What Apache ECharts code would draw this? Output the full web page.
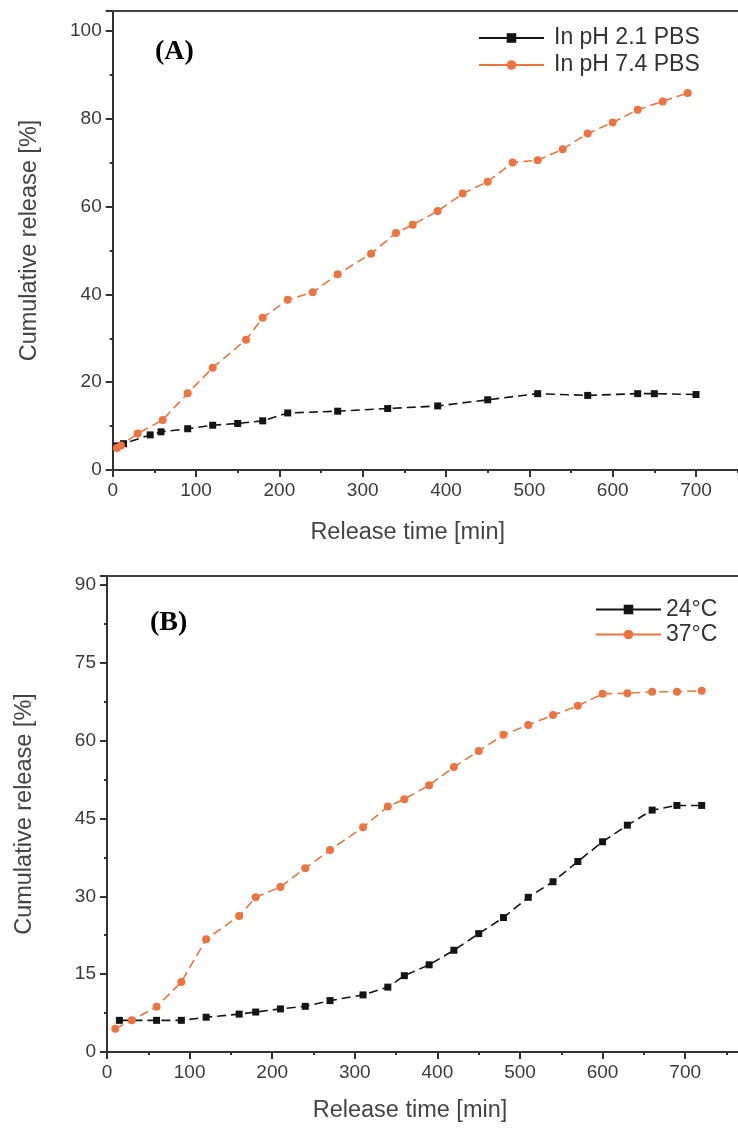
<!DOCTYPE html>
<html><head><meta charset="utf-8">
<script src="https://cdn.jsdelivr.net/npm/echarts@6/dist/echarts.min.js"></script>
<style>html,body{margin:0;padding:0;background:#fff}#c{width:738px;height:1133px}</style>
</head><body><div id="c"></div>
<script>
// Panel A
const namesA = ['In pH 2.1 PBS', 'In pH 7.4 PBS'];
const timeA21 = [5, 13, 45, 58, 90, 120, 150, 180, 210, 270, 330, 390, 450, 510, 570, 630, 650, 700];
const relA21  = [5.5, 6.0, 8.0, 8.7, 9.4, 10.2, 10.6, 11.2, 13.0, 13.4, 14.0, 14.6, 16.0, 17.4, 17.0, 17.4, 17.4, 17.2];
const timeA74 = [5, 10, 30, 60, 90, 120, 160, 180, 210, 240, 270, 310, 340, 360, 390, 420, 450, 480, 510, 540, 570, 600, 630, 660, 690];
const relA74  = [5.0, 5.6, 8.3, 11.4, 17.5, 23.3, 29.7, 34.7, 38.8, 40.5, 44.6, 49.3, 54.0, 55.9, 59.0, 63.0, 65.7, 70.1, 70.6, 73.1, 76.7, 79.2, 82.1, 84.0, 85.9];
// Panel B
const namesB = ['24°C', '37°C'];
const timeB24 = [15, 60, 90, 120, 160, 180, 210, 240, 270, 310, 340, 360, 390, 420, 450, 480, 510, 540, 570, 600, 630, 660, 690, 720];
const relB24  = [6.1, 6.1, 6.1, 6.7, 7.3, 7.7, 8.3, 8.8, 9.9, 11.0, 12.5, 14.7, 16.8, 19.6, 22.8, 25.9, 29.8, 32.8, 36.7, 40.5, 43.7, 46.6, 47.5, 47.5];
const timeB37 = [10, 30, 60, 90, 120, 160, 180, 210, 240, 270, 310, 340, 360, 390, 420, 450, 480, 510, 540, 570, 600, 630, 660, 690, 720];
const relB37  = [4.5, 6.1, 8.7, 13.5, 21.7, 26.2, 29.8, 31.8, 35.4, 38.9, 43.3, 47.3, 48.7, 51.4, 54.9, 58.0, 61.1, 63.0, 64.9, 66.7, 69.0, 69.1, 69.4, 69.4, 69.6];
// Axis ticks
const xTicksInterval = 100;
const yIntervalA = 20;
const yIntervalB = 15;

const zip = (a, b) => a.map((v, i) => [v, b[i]]);
const BLACK = '#141414', ORANGE = '#ec7440', AXIS = '#333';
const font = 'Liberation Sans, Arial, sans-serif';

function xAxis(gi, max, padShift, gap) {
  return {
    type: 'value', gridIndex: gi, min: 0, max: max, interval: xTicksInterval,
    name: 'Release time [min]', nameLocation: 'middle', nameGap: gap,
    nameTextStyle: { fontFamily: font, fontSize: 23.5, color: '#444', padding: [0, padShift, 0, 0] },
    axisLine: { lineStyle: { color: AXIS, width: 2 } },
    axisTick: { inside: false, length: 7, lineStyle: { color: AXIS, width: 2 } },
    minorTick: { show: true, splitNumber: 2, length: 3, lineStyle: { color: AXIS, width: 2 } },
    axisLabel: { fontFamily: font, fontSize: 19, color: '#3a3a3a', margin: 11, showMaxLabel: false },
    splitLine: { show: false }, minorSplitLine: { show: false }
  };
}
function topAxis(gi, max) {
  return {
    type: 'value', gridIndex: gi, position: 'top', min: 0, max: max,
    axisLine: { show: true, onZero: false, lineStyle: { color: '#444', width: 2 } },
    axisTick: { show: false }, axisLabel: { show: false }, splitLine: { show: false }
  };
}
function yAxis(gi, max, interval, gap) {
  return {
    type: 'value', gridIndex: gi, min: 0, max: max, interval: interval,
    name: 'Cumulative release [%]', nameLocation: 'middle', nameGap: gap,
    nameTextStyle: { fontFamily: font, fontSize: 23.5, color: '#444' },
    axisLine: { show: true, lineStyle: { color: AXIS, width: 2 } },
    axisTick: { show: true, inside: false, length: 7, lineStyle: { color: AXIS, width: 2 } },
    minorTick: { show: true, splitNumber: 2, length: 3, lineStyle: { color: AXIS, width: 2 } },
    axisLabel: { fontFamily: font, fontSize: 19, color: '#3a3a3a', margin: 11, showMaxLabel: false },
    splitLine: { show: false }, minorSplitLine: { show: false }
  };
}
function line(name, data, xi, yi, color, symbol, size) {
  return {
    name: name, type: 'line', xAxisIndex: xi, yAxisIndex: yi, data: data,
    symbol: symbol, symbolSize: size, showSymbol: true,
    lineStyle: { color: color, width: 1.6, type: [9, 5] },
    itemStyle: { color: color }, emphasis: { disabled: true }, animation: false
  };
}

const chart = echarts.init(document.getElementById('c'), null, { renderer: 'canvas' });
chart.setOption({
  backgroundColor: '#fff',
  animation: false,
  grid: [
    { left: 112.7, top: 11, width: 630, height: 459, outerBoundsMode: 'none', containLabel: false },
    { left: 107, top: 576, width: 636, height: 476, outerBoundsMode: 'none', containLabel: false }
  ],
  xAxis: [xAxis(0, 756, 40, 51), xAxis(1, 770, 30, 47), topAxis(0, 756), topAxis(1, 770)],
  yAxis: [yAxis(0, 104.6, yIntervalA, 71), yAxis(1, 91.7, yIntervalB, 70)],
  legend: [
    { orient: 'vertical', left: 473, top: 20, itemWidth: 65, itemHeight: 12, itemGap: 1,
      textStyle: { fontFamily: font, fontSize: 23, color: '#333', padding: [0, 0, 0, 5], lineHeight: 26 },
      data: namesA, lineStyle: { type: 'solid', width: 2 }, selectedMode: false },
    { orient: 'vertical', left: 590, top: 592, itemWidth: 65, itemHeight: 12, itemGap: 0,
      textStyle: { fontFamily: font, fontSize: 23, color: '#333', lineHeight: 25 },
      data: namesB, lineStyle: { type: 'solid', width: 2 }, selectedMode: false }
  ],
  graphic: [
    { type: 'text', left: 155, top: 38, style: { text: '(A)', font: 'bold 28px "Liberation Serif", "Times New Roman", serif', fill: '#000' } },
    { type: 'text', left: 150, top: 609, style: { text: '(B)', font: 'bold 28px "Liberation Serif", "Times New Roman", serif', fill: '#000' } }
  ],
  series: [
    line(namesA[0], zip(timeA21, relA21), 0, 0, BLACK, 'rect', 7),
    line(namesA[1], zip(timeA74, relA74), 0, 0, ORANGE, 'circle', 8),
    line(namesB[0], zip(timeB24, relB24), 1, 1, BLACK, 'rect', 7),
    line(namesB[1], zip(timeB37, relB37), 1, 1, ORANGE, 'circle', 8)
  ]
});
</script></body></html>
